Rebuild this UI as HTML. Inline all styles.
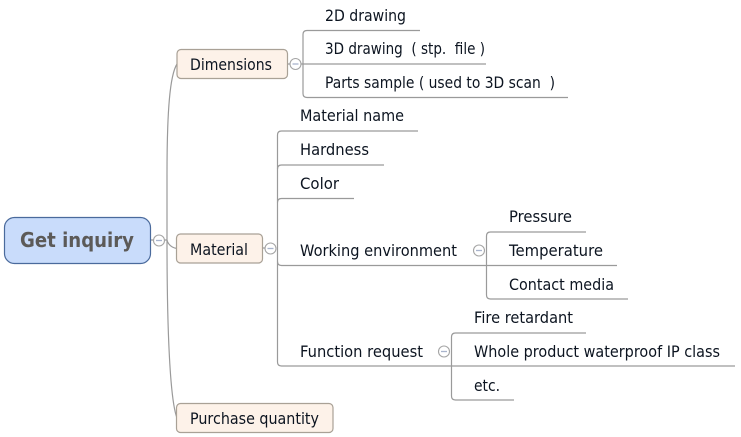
<!DOCTYPE html>
<html><head><meta charset="utf-8"><style>
html,body{margin:0;padding:0;background:#fff;width:741px;height:437px;overflow:hidden}
svg{display:block}
text{font-family:"DejaVu Sans","Liberation Sans",sans-serif;font-size:16px;fill:#0c1420}
.l{fill:none;stroke:#9a9a9a;stroke-width:1.2}
.c{fill:#fff;stroke:#a5a5a5;stroke-width:1.1}
.m{stroke:#a9b4cc;stroke-width:1.3}
.b{fill:#fdf2e9;stroke:#a9a196;stroke-width:1.2}
</style></head><body>
<svg width="741" height="437" viewBox="0 0 741 437" xmlns="http://www.w3.org/2000/svg">
<path class="l" d="M151 240H153M165 240H167"/>
<path class="l" d="M177 64C170 75 167 110 167 175V240C167 240 168 247 177 248.500"/>
<path class="l" d="M167 240C167 330 170 400 177 418"/>
<rect x="4.500" y="217.500" width="146" height="46" rx="10" fill="#c9dcfb" stroke="#4a6a9c" stroke-width="1.2"/>
<text x="20" y="247" style="font-size:20px;font-weight:bold;fill:#5c5a58" textLength="114" lengthAdjust="spacingAndGlyphs">Get inquiry</text>
<rect class="b" x="177" y="49.500" width="110.500" height="29" rx="4"/>
<text x="190" y="70" textLength="82" lengthAdjust="spacingAndGlyphs">Dimensions</text>
<rect class="b" x="176.500" y="234" width="86" height="29" rx="4"/>
<text x="190" y="255" textLength="58" lengthAdjust="spacingAndGlyphs">Material</text>
<rect class="b" x="176.500" y="403.500" width="156.500" height="29" rx="4"/>
<text x="190" y="424" textLength="129" lengthAdjust="spacingAndGlyphs">Purchase quantity</text>
<path class="l" d="M288 64H486M420 30.500H307Q303 30.500 303 34.500V93.500Q303 97.500 307 97.500H568"/>
<path class="l" d="M418 131H281.500Q277.500 131 277.500 135V362Q277.500 366 281.500 366H452"/>
<path class="l" d="M384 165H281.500Q277.500 165 277.500 169M354 198.500H281.500Q277.500 198.500 277.500 202.500M617 265.500H281.500Q277.500 265.500 277.500 261.500M263 248H270"/>
<path class="l" d="M586 232H490.500Q486.500 232 486.500 236V295Q486.500 299 490.500 299H628"/>
<path class="l" d="M586 333H455.500Q451.500 333 451.500 337V396Q451.500 400 455.500 400H514M452 366H735"/>
<circle class="c" cx="159" cy="240.500" r="5.500"/><path class="m" d="M156 240.500H162"/>
<circle class="c" cx="295.500" cy="64" r="5.500"/><path class="m" d="M292.500 64H298.500"/>
<circle class="c" cx="270.500" cy="248.500" r="5.500"/><path class="m" d="M267.500 248.500H273.500"/>
<circle class="c" cx="479" cy="250.500" r="5.500"/><path class="m" d="M476 250.500H482"/>
<circle class="c" cx="444" cy="351.500" r="5.500"/><path class="m" d="M441 351.500H447"/>
<text x="325" y="21" textLength="81" lengthAdjust="spacingAndGlyphs">2D drawing</text>
<text x="325" y="54" textLength="160" lengthAdjust="spacingAndGlyphs" xml:space="preserve">3D drawing  ( stp.  file )</text>
<text x="325" y="88" textLength="230" lengthAdjust="spacingAndGlyphs" xml:space="preserve">Parts sample ( used to 3D scan  )</text>
<text x="300" y="121" textLength="104" lengthAdjust="spacingAndGlyphs">Material name</text>
<text x="300" y="155" textLength="69" lengthAdjust="spacingAndGlyphs">Hardness</text>
<text x="300" y="189" textLength="39" lengthAdjust="spacingAndGlyphs">Color</text>
<text x="300" y="256" textLength="157" lengthAdjust="spacingAndGlyphs">Working environment</text>
<text x="300" y="357" textLength="123" lengthAdjust="spacingAndGlyphs">Function request</text>
<text x="509" y="222" textLength="63" lengthAdjust="spacingAndGlyphs">Pressure</text>
<text x="509" y="256" textLength="94" lengthAdjust="spacingAndGlyphs">Temperature</text>
<text x="509" y="290" textLength="105" lengthAdjust="spacingAndGlyphs">Contact media</text>
<text x="474" y="323" textLength="99" lengthAdjust="spacingAndGlyphs">Fire retardant</text>
<text x="474" y="357" textLength="246" lengthAdjust="spacingAndGlyphs">Whole product waterproof IP class</text>
<text x="474" y="391" textLength="26" lengthAdjust="spacingAndGlyphs">etc.</text>
</svg>
</body></html>
